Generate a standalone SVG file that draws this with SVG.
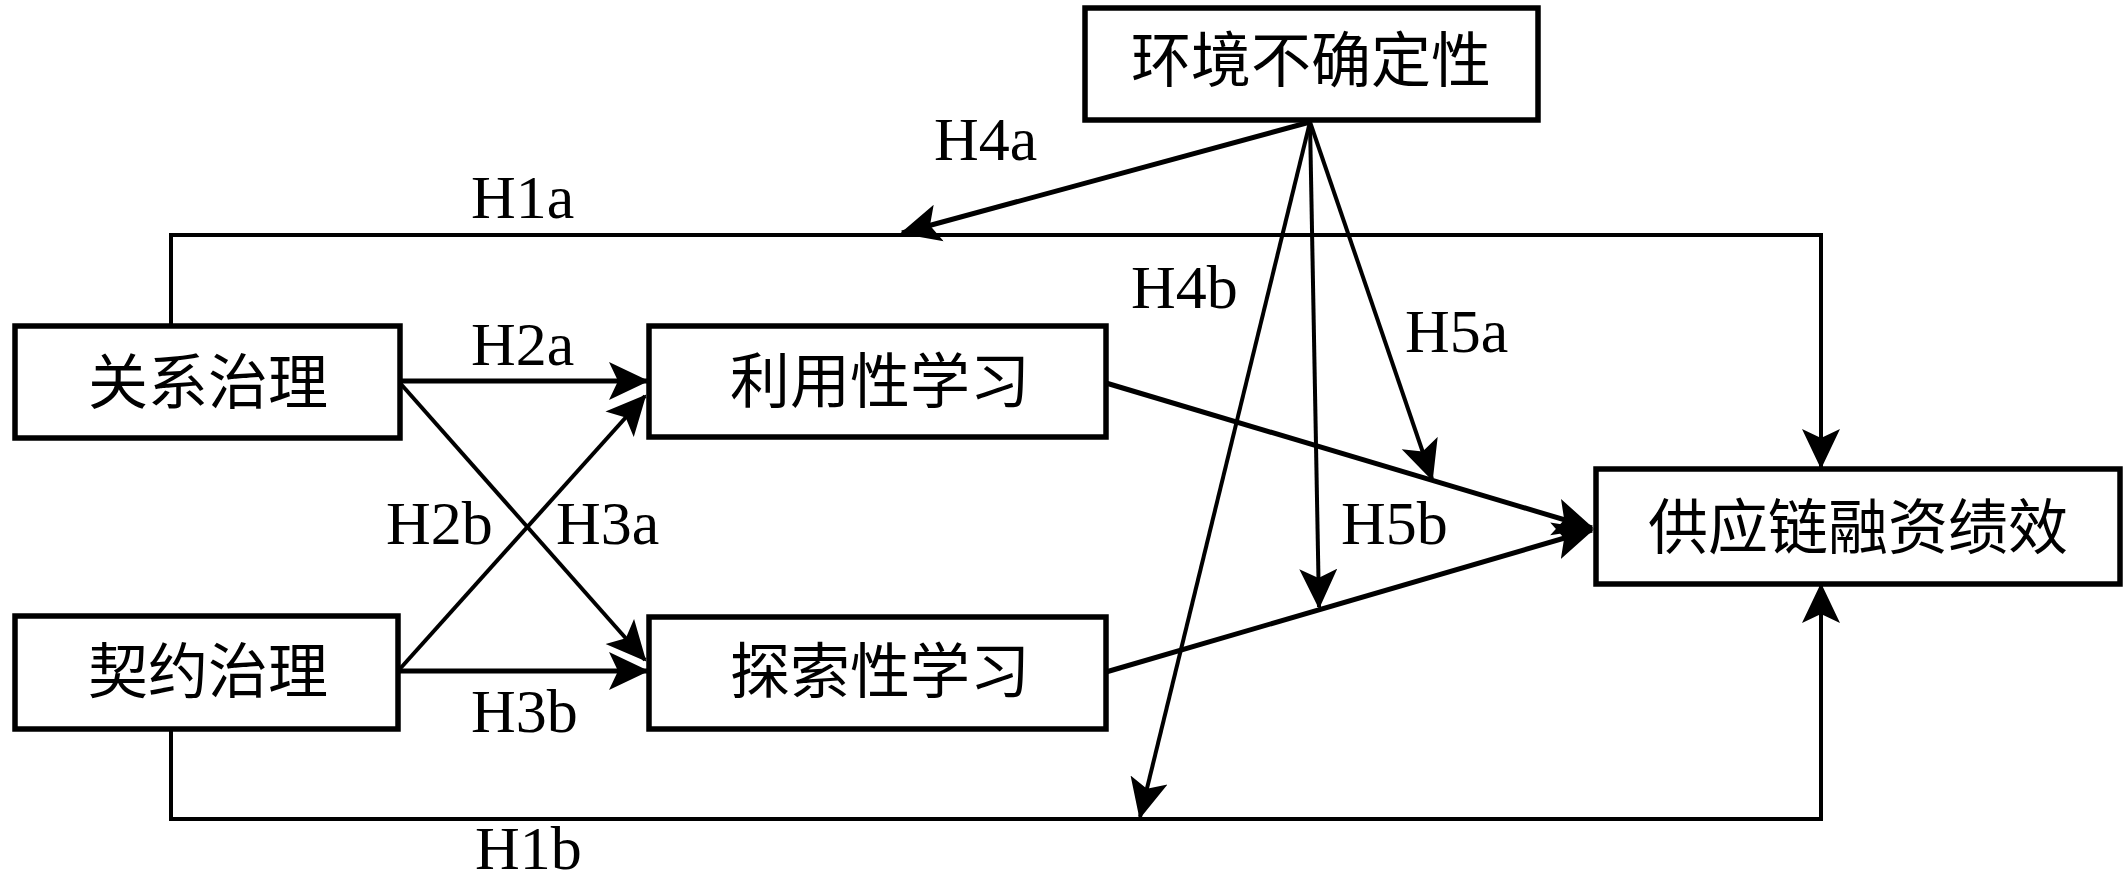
<svg xmlns="http://www.w3.org/2000/svg" width="2126" height="883" viewBox="0 0 2126 883">
<style>
.box{fill:#fff;stroke:#000;stroke-width:5.5}
.zh{font-family:"Liberation Serif","Noto Sans CJK SC",serif;font-size:60px;fill:#000;text-anchor:middle;dominant-baseline:central}
.lb{font-family:"Liberation Serif",serif;font-size:62px;fill:#000}
.ln{fill:none;stroke:#000;stroke-width:5}
.th{fill:none;stroke:#000;stroke-width:4}
</style>
<defs>
<marker id="arr" markerUnits="userSpaceOnUse" markerWidth="44" markerHeight="44" viewBox="0 0 44 44" refX="38" refY="20" orient="auto">
<path d="M40,20 L0,1 L9,20 L0,39 Z" fill="#000"/>
</marker>
</defs>
<rect width="2126" height="883" fill="#fff"/>
<g id="connectors">
<polyline class="th" points="171,326 171,235 1821,235 1821,467" marker-end="url(#arr)"/>
<polyline class="th" points="171,729 171,819 1821,819 1821,585" marker-end="url(#arr)"/>
<line class="ln" x1="400" y1="381" x2="647" y2="381" marker-end="url(#arr)"/>
<line class="ln" x1="398" y1="671" x2="647" y2="671" marker-end="url(#arr)"/>
<line class="th" x1="400" y1="383" x2="645" y2="660" marker-end="url(#arr)"/>
<line class="th" x1="398" y1="671" x2="645" y2="396" marker-end="url(#arr)"/>
<line class="ln" x1="1310" y1="122" x2="902" y2="233" marker-end="url(#arr)"/>
<line class="th" x1="1310" y1="122" x2="1140" y2="817" marker-end="url(#arr)"/>
<line class="th" x1="1310" y1="122" x2="1319" y2="607" marker-end="url(#arr)"/>
<line class="th" x1="1310" y1="122" x2="1432" y2="479" marker-end="url(#arr)"/>
<line class="ln" x1="1106" y1="383" x2="1592" y2="528" marker-end="url(#arr)"/>
<line class="ln" x1="1106" y1="672" x2="1592" y2="530" marker-end="url(#arr)"/>
</g>
<g id="labels">
<text class="lb" x="934" y="160">H4a</text>
<text class="lb" x="471" y="218">H1a</text>
<text class="lb" x="471" y="365">H2a</text>
<text class="lb" x="1131" y="308">H4b</text>
<text class="lb" x="1405" y="352">H5a</text>
<text class="lb" x="386" y="544">H2b</text>
<text class="lb" x="556" y="544">H3a</text>
<text class="lb" x="1341" y="544">H5b</text>
<text class="lb" x="471" y="732">H3b</text>
<text class="lb" x="475" y="869">H1b</text>
</g>
<g id="env">
<rect class="box" x="1085" y="8" width="453" height="112"/>
<text class="zh" x="1311" y="62">环境不确定性</text>
</g>
<g id="relational">
<rect class="box" x="15" y="326" width="385" height="112"/>
<text class="zh" x="208" y="384">关系治理</text>
</g>
<g id="contractual">
<rect class="box" x="15" y="616" width="383" height="113"/>
<text class="zh" x="208" y="673">契约治理</text>
</g>
<g id="exploitative">
<rect class="box" x="649" y="326" width="457" height="111"/>
<text class="zh" x="880" y="383">利用性学习</text>
</g>
<g id="exploratory">
<rect class="box" x="649" y="617" width="457" height="112"/>
<text class="zh" x="880" y="673">探索性学习</text>
</g>
<g id="performance">
<rect class="box" x="1596" y="469" width="524" height="115"/>
<text class="zh" x="1858" y="529">供应链融资绩效</text>
</g>
</svg>
